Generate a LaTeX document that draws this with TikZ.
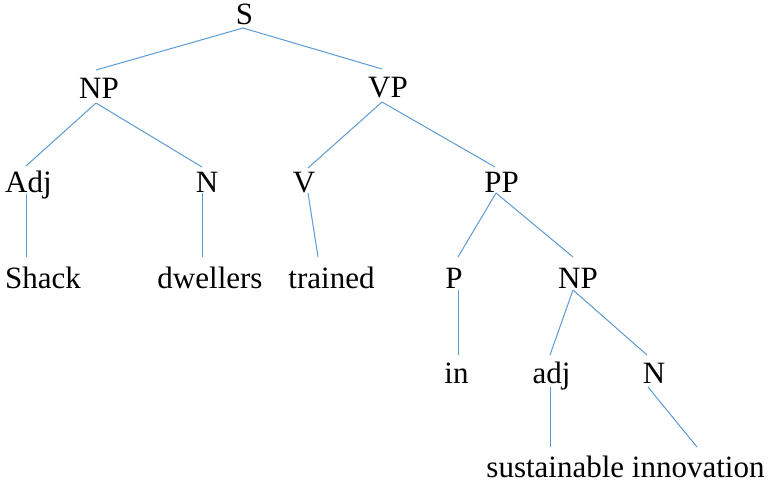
\documentclass[tikz,border=0pt]{standalone}
\usepackage{fontspec}
\setmainfont{Liberation Serif}
\definecolor{branchblue}{HTML}{5B9BD5}
\tikzset{
  lbl/.style={anchor=base, inner sep=0pt, font=\fontsize{31}{36}\selectfont, text=black},
  branch/.style={draw=branchblue, line width=1pt}
}
% a branch from a shifted point of one node's baseline to a shifted point of another's
\newcommand\treeline[6]{\draw[branch] ([shift={(#2,#3)}]#1.base) -- ([shift={(#5,#6)}]#4.base);}
\begin{document}
\begin{tikzpicture}[x=1pt,y=-1pt]
\useasboundingbox (0,0) rectangle (771,482);
\fill[white] (0,0) rectangle (771,482);

% labels, placed by baseline centre
\node[lbl] (S)      at (244.5,24)  {S};
\node[lbl] (NPa)    at (99,98)     {NP};
\node[lbl] (VP)     at (388,97)    {VP};
\node[lbl] (Adj)    at (28.5,192)  {Adj};
\node[lbl] (Na)     at (207,192)   {N};
\node[lbl] (V)      at (304,192)   {V};
\node[lbl] (PP)     at (501.5,192) {PP};
\node[lbl] (shack)  at (43,288)    {Shack};
\node[lbl] (dwell)  at (210,288)   {dwellers};
\node[lbl] (train)  at (331.5,288) {trained};
\node[lbl] (P)      at (454,288)   {P};
\node[lbl] (NPb)    at (578,288)   {NP};
\node[lbl] (in)     at (456.5,383) {in};
\node[lbl] (adj)    at (551.5,383) {adj};
\node[lbl] (Nb)     at (654,383)   {N};
\node[lbl] (leaf)   at (625.5,477) {sustainable innovation};

% branches
\treeline{S}{-1.5}{4}{NPa}{-3}{-28}
\treeline{S}{-1.5}{4}{VP}{-6}{-28}
\treeline{NPa}{-3}{5}{Adj}{-2.5}{-26}
\treeline{NPa}{-3}{5}{Na}{-5}{-25}
\treeline{VP}{-6}{5}{V}{4}{-24}
\treeline{VP}{-6}{5}{PP}{-6.5}{-25}
\treeline{Adj}{-2.5}{2}{shack}{-17}{-31}
\treeline{Na}{-5}{1}{dwell}{-8}{-31}
\treeline{V}{4}{1}{train}{-13.5}{-31}
\treeline{PP}{-5.5}{1}{P}{4}{-31}
\treeline{PP}{-5.5}{1}{NPb}{-5}{-31}
\treeline{P}{4}{2}{in}{1.5}{-28}
\treeline{NPb}{-5}{2}{adj}{-1.5}{-28}
\treeline{NPb}{-5}{2}{Nb}{-7}{-28}
\treeline{adj}{-1.5}{4}{leaf}{-75.5}{-30}
\treeline{Nb}{-6}{4}{leaf}{71.5}{-30}
\end{tikzpicture}
\end{document}
